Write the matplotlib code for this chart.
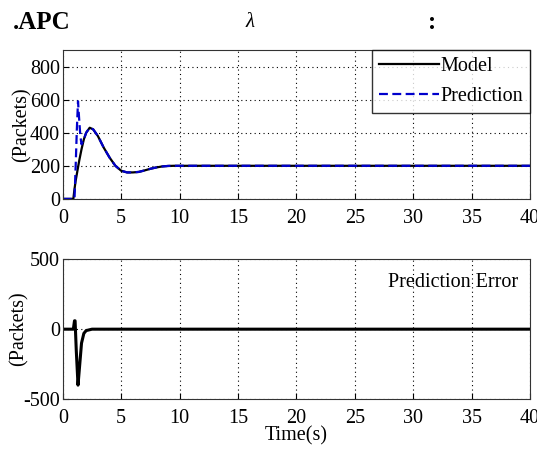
import matplotlib
matplotlib.use("Agg")
import matplotlib.pyplot as plt

# Model response (Packets)
model_t = [0, 0.9, 1.0, 1.1, 1.2, 1.3, 1.4, 1.6, 1.8, 2.0, 2.3, 2.6, 3.0, 3.5, 4.0, 4.5,
           5.0, 5.5, 6.0, 6.5, 7.0, 7.5, 8.0, 8.5, 9.0, 9.5, 10, 12, 15, 20, 25, 30, 35, 40]
model_v = [0, 0, 60, 110, 150, 190, 230, 300, 360, 400, 430, 420, 380, 310, 250, 200,
           170, 160, 160, 163, 172, 182, 190, 196, 199, 200, 200, 200, 200, 200, 200, 200, 200, 200]

# Prediction (Packets)
pred_t = [0, 1.0, 1.1, 1.2, 1.3, 1.4, 1.5, 1.6, 1.8, 2.0, 2.3, 2.6, 3.0, 3.5, 4.0, 4.5,
          5.0, 5.5, 6.0, 6.5, 7.0, 7.5, 8.0, 8.5, 9.0, 9.5, 10, 12, 15, 20, 25, 30, 35, 40]
pred_v = [0, 0, 200, 420, 590, 480, 380, 330, 360, 400, 430, 420, 380, 310, 250, 200,
          170, 160, 160, 163, 172, 182, 190, 196, 199, 200, 200, 200, 200, 200, 200, 200, 200, 200]

# Prediction error (Packets)
err_t = [0, 0.9, 1.0, 1.05, 1.15, 1.3, 1.45, 1.6, 1.8, 2.0, 2.5, 5, 10, 20, 30, 40]
err_v = [0, 0, 60, 60, -150, -400, -250, -100, -30, -10, 0, 0, 0, 0, 0, 0]

x_ticks = [0, 5, 10, 15, 20, 25, 30, 35, 40]
top_yticks = [0, 200, 400, 600, 800]
bot_yticks = [-500, 0, 500]

plt.rcParams['font.family'] = ['Liberation Serif', 'DejaVu Serif']
plt.rcParams['font.size'] = 14.5
plt.rcParams['axes.unicode_minus'] = False

fig = plt.figure(figsize=(5.37, 4.5), dpi=100)
ax1 = fig.add_axes([0.117, 0.558, 0.870, 0.331])
ax2 = fig.add_axes([0.117, 0.113, 0.870, 0.311])

ax1.plot(model_t, model_v, color='black', lw=1.6, label='Model')
ax1.plot(pred_t, pred_v, color='#0000cc', lw=1.6, ls=(0, (4, 2)), label='Prediction')
ax1.set_xlim(0, 40)
ax1.set_ylim(0, 900)
ax1.set_xticks(x_ticks)
ax1.set_yticks(top_yticks)
ax1.set_ylabel('(Packets)', labelpad=-1)
ax1.legend(loc='upper right', frameon=True, fancybox=False, edgecolor='black',
           handlelength=3.0, handletextpad=0.05, borderpad=0.35, labelspacing=0.55,
           borderaxespad=0.0, fontsize=14.5)

ax2.plot(err_t, err_v, color='black', lw=2.2)
ax2.set_xlim(0, 40)
ax2.set_ylim(-500, 500)
ax2.set_xticks(x_ticks)
ax2.set_yticks(bot_yticks)
ax2.set_ylabel('(Packets)', labelpad=-4)
ax2.set_xlabel('Time(s)', labelpad=-1)
ax2.text(0.975, 0.83, 'Prediction Error', transform=ax2.transAxes, ha='right', va='center')

for ax in (ax1, ax2):
    ax.grid(True, color='black', ls=(0, (1, 3)), lw=0.8)
    ax.tick_params(direction='in', length=4)
    ax.tick_params(axis='x', pad=7)
    ax.tick_params(axis='y', pad=2)
    for s in ax.spines.values():
        s.set_linewidth(0.8)
        s.set_color('#333333')

fig.text(0.024, 0.950, '.APC', fontsize=18, fontweight='bold', va='center', ha='left')
fig.text(0.465, 0.950, 'λ', fontsize=15, style='italic', va='center', ha='center')
fig.text(0.805, 0.950, ':', fontsize=18, fontweight='bold', va='center', ha='center')

fig.savefig('out.png', dpi=100)
